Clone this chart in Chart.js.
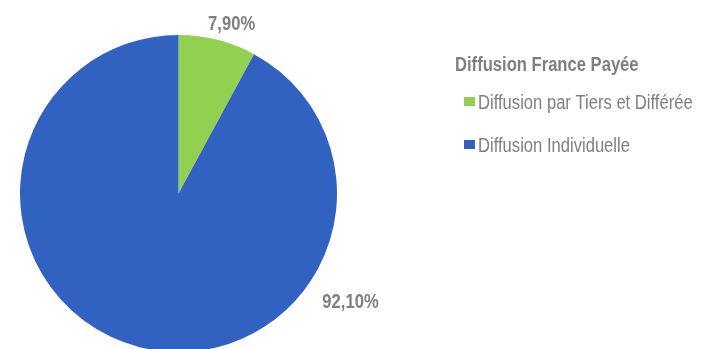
<!DOCTYPE html>
<html>
<head>
<meta charset="utf-8">
<script src="https://cdn.jsdelivr.net/npm/chart.js@4/dist/chart.umd.min.js"></script>
<style>
html,body{margin:0;padding:0;background:#fff;overflow:hidden;width:702px;height:349px;}
#wrap{position:relative;width:702px;height:360px;}
</style>
</head>
<body>
<div id="wrap"><canvas id="c" width="702" height="360"></canvas></div>
<script>
const legendTitle = "Diffusion France Payée";
const categories = ["Diffusion par Tiers et Différée", "Diffusion Individuelle"];
const values = [7.90, 92.10];
const valueLabels = ["7,90%", "92,10%"];
const colors = ["#92d050", "#3162c2"];

const FONT = "'Liberation Sans',Arial,sans-serif";
const GRAY = "#7f7f7f";
const NARROW = 0.83;

function drawText(ctx, txt, x, y, font, align) {
  ctx.save();
  ctx.font = font;
  ctx.textAlign = align;
  ctx.textBaseline = "alphabetic";
  ctx.translate(x, y);
  ctx.scale(NARROW, 1);
  ctx.fillText(txt, 0, 0);
  ctx.restore();
}

const overlay = {
  id: 'overlay',
  afterDraw(chart) {
    const ctx = chart.ctx;
    const meta = chart.getDatasetMeta(0);
    ctx.save();
    ctx.fillStyle = GRAY;
    // best-fit outside labels: angle (deg clockwise from top) and distance beyond the rim, to baseline
    const place = [{ang: 18.0, d: 13.4}, {ang: 123.6, d: 48}];
    meta.data.forEach((arc, i) => {
      const p = arc.getProps(['x','y','outerRadius'], true);
      const a = place[i].ang * Math.PI / 180;
      const r = p.outerRadius + place[i].d;
      drawText(ctx, valueLabels[i], p.x + r * Math.sin(a), p.y - r * Math.cos(a), "bold 20px " + FONT, "center");
    });
    // legend
    drawText(ctx, legendTitle, 455, 71, "bold 20px " + FONT, "left");
    categories.forEach((c, i) => {
      const y = 109 + i * 43;
      ctx.fillStyle = colors[i];
      ctx.fillRect(464, y - 12, 11, 9);
      ctx.fillStyle = GRAY;
      drawText(ctx, c, 478, y, "20px " + FONT, "left");
    });
    ctx.restore();
  }
};

new Chart(document.getElementById('c'), {
  type: 'pie',
  data: {
    labels: categories,
    datasets: [{ data: values, backgroundColor: colors, borderWidth: 0, hoverOffset: 0 }]
  },
  options: {
    responsive: false,
    animation: false,
    layout: { padding: { left: 20, top: 35, right: 365, bottom: 8 } },
    plugins: { legend: { display: false }, tooltip: { enabled: false } }
  },
  plugins: [overlay]
});
</script>
</body>
</html>
